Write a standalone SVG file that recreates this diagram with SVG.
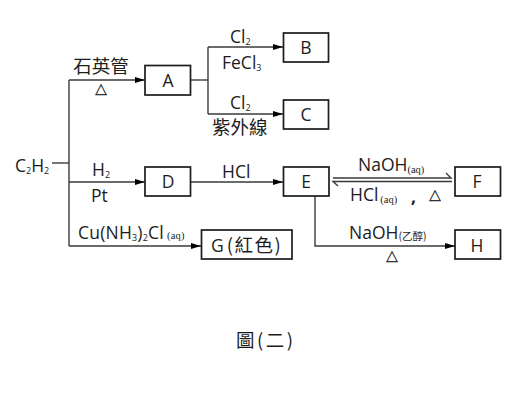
<svg xmlns="http://www.w3.org/2000/svg" width="526" height="403" viewBox="0 0 526 403">
<style>
text{font-family:"Open Sans","Noto Sans CJK TC","Liberation Sans",sans-serif;fill:#1c1c1c;font-size:17.500px}
.c{font-family:"Noto Sans CJK TC",sans-serif;font-size:18.500px}
.m{text-anchor:middle}
.s{font-size:9px}
.t{font-size:10.500px;font-family:"Liberation Serif","Noto Sans CJK TC",serif}
.d{font-size:12px;font-family:"Noto Sans CJK TC",sans-serif;stroke:#1c1c1c;stroke-width:0.400}
rect{fill:#fff;stroke:#1c1c1c;stroke-width:1.700}
#connectors path{fill:none;stroke:#3a3a3a;stroke-width:1.400}
.head{fill:#000;stroke:none}
</style>
<defs>
<marker id="arrow" viewBox="0 0 10 8" markerWidth="10" markerHeight="8" refX="10" refY="4" orient="auto" markerUnits="userSpaceOnUse"><path class="head" d="M0 1 L10 4 L0 7 Z"/></marker>
</defs>
<rect width="526" height="403" style="fill:#fff;stroke:none"/>
<g id="connectors">
<path d="M52 163 H69"/>
<path d="M69 80 V246"/>
<path d="M69 80 H145" marker-end="url(#arrow)"/>
<path d="M69 182 H145" marker-end="url(#arrow)"/>
<path d="M69 246 H201" marker-end="url(#arrow)"/>
<path d="M190 80 H208"/>
<path d="M208 47 V114"/>
<path d="M208 47 H283" marker-end="url(#arrow)"/>
<path d="M208 114 H283" marker-end="url(#arrow)"/>
<path d="M190 182 H283" marker-end="url(#arrow)"/>
<path d="M333 178 H451 L446 173"/>
<path d="M452 181.500 H333 L338 186"/>
<path d="M315 196 V246 H455" marker-end="url(#arrow)"/>
</g>
<g id="node-C2H2"><text x="15" y="172">C<tspan class="s" dy="2">2</tspan><tspan dy="-2">H</tspan><tspan class="s" dy="2">2</tspan></text></g>
<g id="node-A"><rect x="145" y="65.500" width="45.500" height="29.500"/><text class="m" x="168" y="87">A</text></g>
<g id="node-B"><rect x="283.500" y="33" width="45" height="29"/><text class="m" x="306" y="54">B</text></g>
<g id="node-C"><rect x="283.500" y="100" width="45" height="29"/><text class="m" x="306" y="121">C</text></g>
<g id="node-D"><rect x="145" y="167" width="45.500" height="29"/><text class="m" x="168" y="188">D</text></g>
<g id="node-E"><rect x="283.500" y="167" width="45.500" height="29"/><text class="m" x="306" y="188">E</text></g>
<g id="node-F"><rect x="455" y="167" width="45.500" height="29"/><text class="m" x="477" y="188">F</text></g>
<g id="node-G"><rect x="201.500" y="230" width="90.500" height="29"/><text x="211" y="252">G<tspan class="c" dx="3" letter-spacing="1.500">(紅色)</tspan></text></g>
<g id="node-H"><rect x="455" y="230" width="45.500" height="29"/><text class="m" x="477" y="252">H</text></g>
<g id="labels">
<text class="c m" x="101" y="73">石英管</text>
<text class="d m" x="101" y="95">△</text>
<text x="230" y="43">Cl<tspan class="s" dy="2">2</tspan></text>
<text x="222" y="69">FeCl<tspan class="s" dy="2">3</tspan></text>
<text x="230" y="109">Cl<tspan class="s" dy="2">2</tspan></text>
<text class="c" x="212" y="134">紫外線</text>
<text x="92" y="176">H<tspan class="s" dy="2">2</tspan></text>
<text x="91" y="202">Pt</text>
<text x="222" y="178">HCl</text>
<text x="78" y="239" letter-spacing="0.200">Cu(NH<tspan class="s" dy="2">3</tspan><tspan dy="-2">)</tspan><tspan class="s" dy="2">2</tspan><tspan dy="-2">Cl</tspan><tspan class="t" dx="3">(aq)</tspan></text>
<text x="358" y="171">NaOH<tspan class="t" dy="2">(aq)</tspan></text>
<text x="350" y="201">HCl<tspan class="t" dx="2" dy="2">(aq)</tspan></text>
<text x="411" y="203" style="font-weight:bold">,</text>
<text class="d m" x="435" y="201">△</text>
<text x="349" y="239">NaOH<tspan class="t" dy="1" style="font-family:'Noto Sans CJK TC',sans-serif">(乙醇)</tspan></text>
<text class="d m" x="392" y="262">△</text>
<text class="c" x="236" y="347" letter-spacing="2.500">圖(二)</text>
</g>
</svg>
